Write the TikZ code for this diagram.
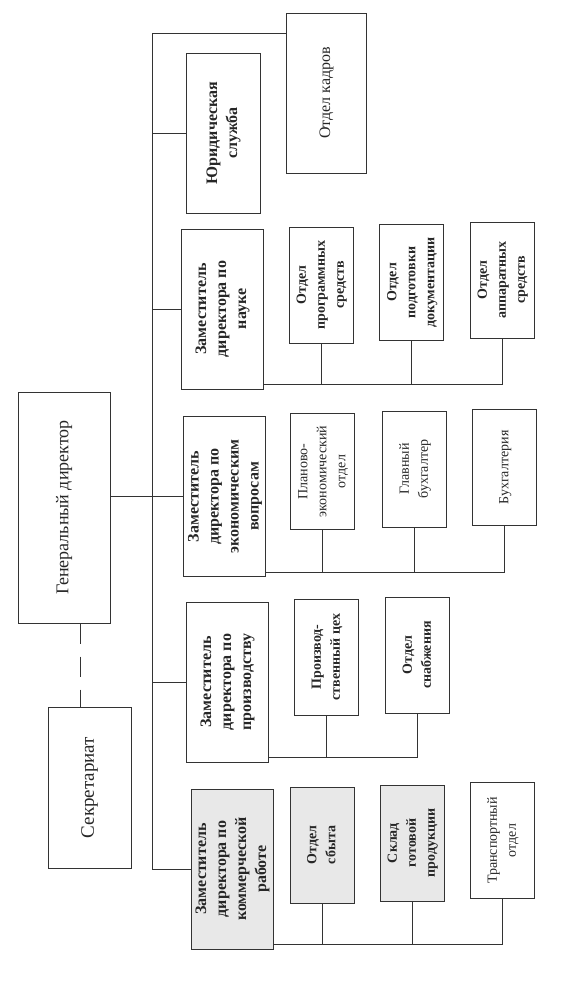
\documentclass[tikz,border=0pt]{standalone}
\usepackage{fontspec}
\setmainfont{Liberation Serif}
\usepackage{graphicx}
\usetikzlibrary{positioning,calc}
\newcommand{\vtext}[1]{\rotatebox{90}{\begin{tabular}{@{}c@{}}#1\end{tabular}}}
\tikzset{
  unit/.style={draw=black!80, line width=1pt, inner sep=0pt, text=black!85},
  zam/.style={unit, minimum width=82pt, minimum height=160pt,
              font=\fontsize{16}{20}\selectfont\bfseries},
  dept/.style={unit, minimum width=64pt, minimum height=116pt,
               font=\fontsize{14}{19}\selectfont\bfseries},
  lite/.style={font=\fontsize{14}{19}\selectfont},
  shaded/.style={fill=black!9},
  link/.style={draw=black!80, line width=0.8pt},
  secline/.style={link, dash pattern=on 20pt off 13pt}
}

\begin{document}
\begin{tikzpicture}[x=1pt,y=-1pt]
  \useasboundingbox (0,0) rectangle (584,994);

  \node[unit, minimum width=92pt, minimum height=231pt,
        font=\fontsize{18}{22}\selectfont] (gen) at (64,507.5) {\vtext{Генеральный директор}};
  \node[unit, minimum width=83pt, minimum height=161pt,
        font=\fontsize{19}{22}\selectfont] (sekr) at (89.5,787.5) {\vtext{Секретариат}};
  \node[unit, minimum width=80pt, minimum height=160pt,
        font=\fontsize{16}{20}\selectfont] (kadry) at (326,93) {\vtext{Отдел кадров}};
  \node[zam, minimum width=74pt] (jur) at (223,133) {\vtext{Юридическая\\служба}};

  \node[zam] (zn) at (222,309) {\vtext{Заместитель\\директора по\\науке}};
  \node[zam] (ze) at (224.5,496.5) {\vtext{Заместитель\\директора по\\экономическим\\вопросам}};
  \node[zam] (zp) at (227,682) {\vtext{Заместитель\\директора по\\производству}};
  \node[zam, shaded] (zk) at (232,869) {\vtext{Заместитель\\директора по\\коммерческой\\работе}};

  \foreach \n/\x/\y/\txt in {prog/321/285/Отдел\\программных\\средств,
                             podg/411.5/282.5/Отдел\\подготовки\\документации,
                             appar/502/280/Отдел\\аппаратных\\средств,
                             ceh/326.5/657/Производ-\\ственный цех,
                             snab/417.5/655/Отдел\\снабжения} {
    \node[dept] (\n) at (\x,\y) {\vtext{\txt}};
  }
  \foreach \n/\x/\y/\txt in {plan/322.5/471.5/Планово-\\экономический\\отдел,
                             glbuh/414.5/469/Главный\\бухгалтер,
                             buh/504.5/467.5/Бухгалтерия,
                             transp/502.5/840.5/Транспортный\\отдел} {
    \node[dept, lite] (\n) at (\x,\y) {\vtext{\txt}};
  }
  \foreach \n/\x/\y/\txt in {sbyt/322/845/Отдел\\сбыта,
                             sklad/412/843/Склад\\готовой\\продукции} {
    \node[dept, shaded] (\n) at (\x,\y) {\vtext{\txt}};
  }

  \coordinate (bustop) at (152,33);
  \coordinate (busbot) at (zk.west -| bustop);
  \draw[link] (bustop) -- (busbot);
  \draw[link] (bustop) -- (bustop -| kadry.west);
  \foreach \z in {jur,zn,zp} \draw[link] (\z.west -| bustop) -- (\z.west);
  \draw[link] (busbot) -- (zk.west);
  \draw[link] (gen.east |- ze.west) -- (ze.west);
  \draw[secline] ([xshift=16pt]gen.south) -- ([xshift=16pt]gen.south |- sekr.north);

  \foreach \z/\last/\kids in {zn/appar/{prog,podg}, ze/buh/{plan,glbuh},
                              zp/snab/{ceh}, zk/transp/{sbyt,sklad}} {
    \coordinate (\z bus) at ([yshift=5pt]\z.south east);
    \draw[link] (\z bus) -| (\last.south);
    \foreach \c in \kids \draw[link] (\c.south) -- (\c.south |- \z bus);
  }
\end{tikzpicture}
\end{document}
